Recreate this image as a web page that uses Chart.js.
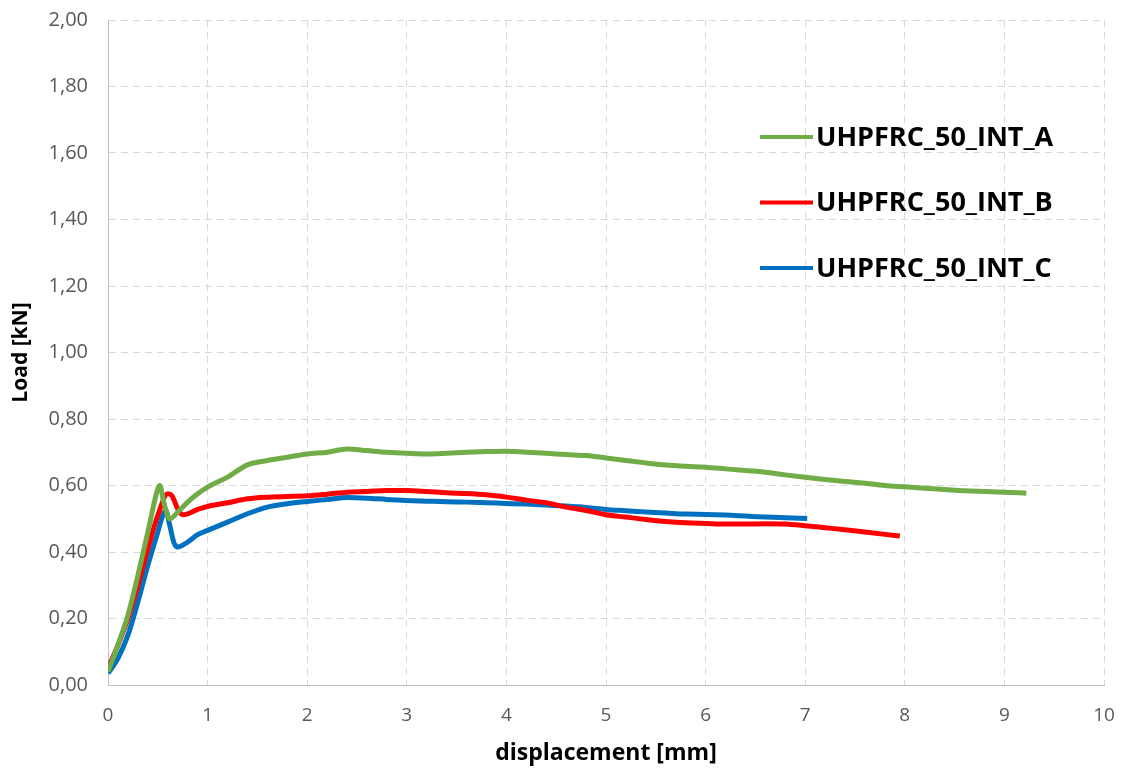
<!DOCTYPE html>
<html>
<head>
<meta charset="utf-8">
<title>UHPFRC_50_INT</title>
<script src="https://cdn.jsdelivr.net/npm/chart.js@4.4.0/dist/chart.umd.min.js"></script>
<style>
  html, body { margin: 0; padding: 0; background: #fff; }
  #wrap { width: 1126px; height: 772px; }
</style>
</head>
<body>
<div id="wrap"><canvas id="canvas" width="1126" height="772"></canvas></div>
<script>
// displacement [mm] / load [kN]
const NAMES = ["UHPFRC_50_INT_A", "UHPFRC_50_INT_B", "UHPFRC_50_INT_C"];
const COLORS = ["#70AD47", "#FF0000", "#0070C0"];

const X_A = [0, 0.1, 0.2, 0.3, 0.4, 0.5, 0.52, 0.56, 0.62, 0.7, 0.8, 0.9, 1.0, 1.2, 1.4, 1.6, 1.8, 2.0, 2.2, 2.4, 2.6, 2.8, 3.0, 3.2, 3.4, 3.6, 3.8, 4.0, 4.2, 4.4, 4.6, 4.8, 5.0, 5.2, 5.4, 5.6, 5.8, 6.0, 6.2, 6.4, 6.6, 6.8, 7.0, 7.2, 7.4, 7.6, 7.8, 8.0, 8.2, 8.4, 8.6, 8.8, 9.0, 9.22];
const Y_A = [0.04, 0.12, 0.21, 0.33, 0.46, 0.59, 0.60, 0.55, 0.50, 0.52, 0.55, 0.575, 0.595, 0.625, 0.662, 0.675, 0.685, 0.695, 0.70, 0.71, 0.705, 0.70, 0.697, 0.695, 0.697, 0.70, 0.702, 0.703, 0.70, 0.697, 0.693, 0.69, 0.683, 0.675, 0.668, 0.662, 0.658, 0.655, 0.65, 0.645, 0.64, 0.632, 0.625, 0.618, 0.612, 0.607, 0.60, 0.596, 0.592, 0.588, 0.584, 0.582, 0.58, 0.577];

const X_B = [0, 0.1, 0.2, 0.3, 0.4, 0.5, 0.6, 0.64, 0.7, 0.75, 0.8, 0.9, 1.0, 1.2, 1.4, 1.6, 1.8, 2.0, 2.2, 2.4, 2.6, 2.8, 3.0, 3.2, 3.4, 3.6, 3.8, 4.0, 4.2, 4.4, 4.6, 4.8, 5.0, 5.2, 5.4, 5.6, 5.8, 6.0, 6.2, 6.4, 6.6, 6.8, 7.0, 7.2, 7.4, 7.6, 7.8, 7.95];
const Y_B = [0.05, 0.12, 0.20, 0.30, 0.41, 0.51, 0.575, 0.57, 0.53, 0.512, 0.515, 0.528, 0.537, 0.548, 0.56, 0.565, 0.567, 0.569, 0.574, 0.58, 0.582, 0.585, 0.585, 0.582, 0.578, 0.576, 0.572, 0.565, 0.556, 0.548, 0.535, 0.525, 0.512, 0.505, 0.498, 0.492, 0.488, 0.486, 0.484, 0.484, 0.485, 0.484, 0.479, 0.473, 0.467, 0.46, 0.453, 0.448];

const X_C = [0, 0.1, 0.2, 0.3, 0.4, 0.5, 0.55, 0.58, 0.62, 0.66, 0.7, 0.8, 0.9, 1.0, 1.2, 1.4, 1.6, 1.8, 2.0, 2.2, 2.4, 2.6, 2.8, 3.0, 3.2, 3.4, 3.6, 3.8, 4.0, 4.2, 4.4, 4.6, 4.8, 5.0, 5.2, 5.4, 5.6, 5.8, 6.0, 6.2, 6.4, 6.6, 6.8, 7.02];
const Y_C = [0.035, 0.08, 0.15, 0.25, 0.36, 0.46, 0.51, 0.525, 0.48, 0.43, 0.415, 0.43, 0.452, 0.465, 0.49, 0.515, 0.535, 0.545, 0.552, 0.558, 0.564, 0.562, 0.558, 0.555, 0.553, 0.551, 0.55, 0.548, 0.546, 0.544, 0.541, 0.538, 0.534, 0.528, 0.524, 0.52, 0.517, 0.514, 0.513, 0.511, 0.508, 0.505, 0.503, 0.501];

const X_TITLE = "displacement [mm]";
const Y_TITLE = "Load [kN]";

function pairs(xs, ys) {
    return xs.map(function (x, i) { return { x: x, y: ys[i] }; });
}

const SERIES = [pairs(X_A, Y_A), pairs(X_B, Y_B), pairs(X_C, Y_C)];

const FONT = "'Open Sans', 'Liberation Sans', sans-serif";

// legend drawn inside the plot, on the right
const insideLegend = {
    id: 'insideLegend',
    afterDraw: function (chart) {
        const ctx = chart.ctx;
        const a = chart.chartArea;
        ctx.save();
        ctx.font = "bold 27px " + FONT;
        ctx.textBaseline = 'middle';
        ctx.fillStyle = '#000';
        chart.data.datasets.forEach(function (ds, i) {
            const y = a.top + 117 + i * 65.5;
            const x0 = a.left + 652;
            ctx.strokeStyle = ds.borderColor;
            ctx.lineWidth = 4;
            ctx.beginPath();
            ctx.moveTo(x0, y);
            ctx.lineTo(x0 + 53, y);
            ctx.stroke();
            ctx.fillText(ds.label, x0 + 56, y + 1);
        });
        ctx.restore();
    }
};

const data = {
    datasets: SERIES.map(function (pts, i) {
        return {
            label: NAMES[i],
            data: pts,
            borderColor: COLORS[i],
            backgroundColor: COLORS[i],
            borderWidth: 5,
            pointRadius: 0,
            showLine: true,
            fill: false,
            cubicInterpolationMode: 'monotone'
        };
    })
};

// tick padding is added to the scale padding in Chart.js, so the gap
// between axis and labels is made with invisible tick marks instead
const options = {
    responsive: false,
    animation: false,
    layout: { padding: { top: 20, right: 22, left: 0, bottom: 0 } },
    plugins: {
        legend: { display: false },
        tooltip: { enabled: false }
    },
    scales: {
        x: {
            type: 'linear',
            min: 0,
            max: 10,
            ticks: {
                stepSize: 1,
                color: '#595959',
                padding: 2,
                font: { family: FONT, size: 19 }
            },
            grid: { color: '#d9d9d9', lineWidth: 1, drawTicks: true, tickLength: 17, tickColor: 'rgba(0,0,0,0)' },
            border: { display: true, color: '#bfbfbf', width: 1, dash: [7, 5] },
            title: {
                display: true,
                text: X_TITLE,
                color: '#000',
                font: { family: FONT, size: 23, weight: 'bold' },
                padding: { top: 0, bottom: 5 }
            },
            afterFit: function (s) { s.height = 87; }
        },
        y: {
            min: 0,
            max: 2,
            ticks: {
                stepSize: 0.2,
                color: '#595959',
                padding: 2,
                font: { family: FONT, size: 20 },
                callback: function (v) { return v.toFixed(2).replace('.', ','); }
            },
            grid: { color: '#d9d9d9', lineWidth: 1, drawTicks: true, tickLength: 18, tickColor: 'rgba(0,0,0,0)' },
            border: { display: true, color: '#bfbfbf', width: 1, dash: [7, 5] },
            title: {
                display: true,
                text: Y_TITLE,
                color: '#000',
                font: { family: FONT, size: 21, weight: 'bold' },
                padding: { top: 8, bottom: 0 }
            },
            afterFit: function (s) { s.width = 108; }
        }
    }
};

var ctx = document.getElementById('canvas').getContext('2d');
var lineChart = new Chart(ctx, {
    type: 'scatter',
    data: data,
    options: options,
    plugins: [insideLegend]
});
</script>
</body>
</html>
